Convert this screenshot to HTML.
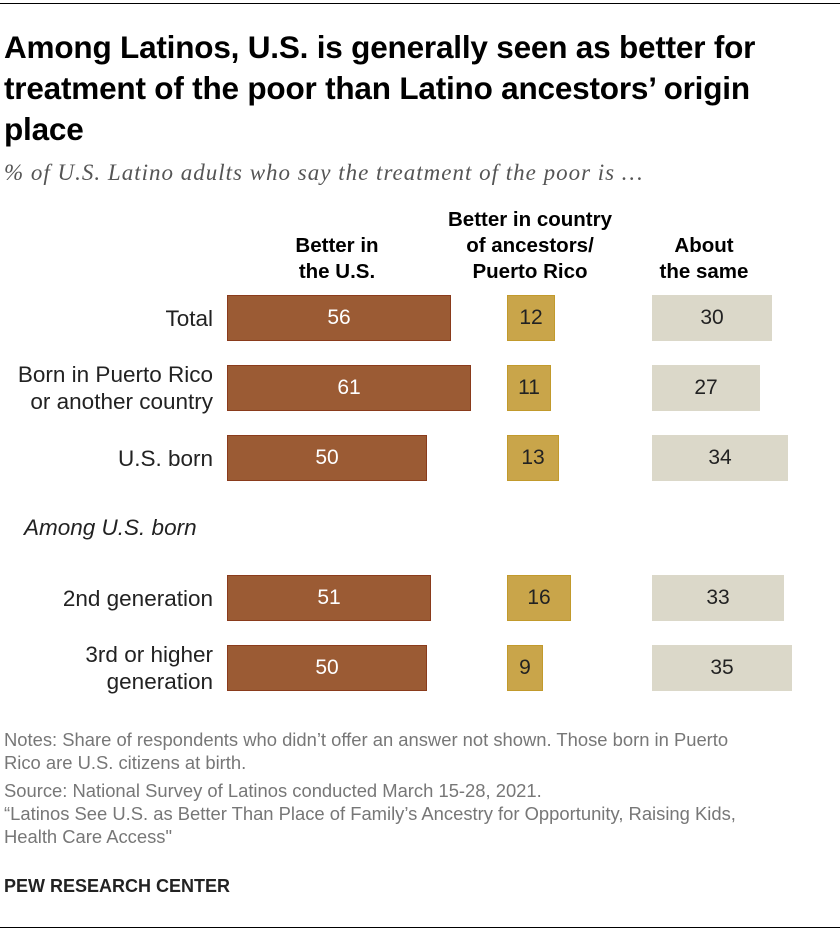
<!DOCTYPE html>
<html><head><meta charset="utf-8"><style>
body{margin:0;background:#fff;font-family:"Liberation Sans",Arial,sans-serif;}
#wrap{position:relative;width:840px;height:932px;overflow:hidden;}
.abs{position:absolute;}
.title{left:4px;top:27px;width:830px;font-size:31.5px;font-weight:bold;line-height:41px;color:#000;letter-spacing:-0.2px;white-space:nowrap;}
.sub{left:4px;top:160px;font-family:"Liberation Serif",serif;font-style:italic;font-size:23px;letter-spacing:1px;color:#555;white-space:nowrap;}
.hdr{font-size:20.5px;font-weight:bold;text-align:center;line-height:26px;color:#000;white-space:nowrap;}
.lbl{font-size:22.5px;color:#222;text-align:right;line-height:27px;white-space:nowrap;}
.bar{position:absolute;height:46px;box-sizing:border-box;font-size:21px;display:flex;align-items:center;justify-content:center;}
.note{left:4px;font-size:18.4px;color:#777;line-height:23px;white-space:nowrap;}
</style></head><body>
<div id="wrap">
<div class="abs" style="left:0;top:3px;width:840px;height:1px;background:#000"></div>
<div class="abs title">Among Latinos, U.S. is generally seen as better for<br>treatment of the poor than Latino ancestors’ origin<br>place</div>
<div class="abs sub">% of U.S. Latino adults who say the treatment of the poor is …</div>
<div class="abs hdr" style="left:257px;top:233px;width:160px">Better in<br>the U.S.</div>
<div class="abs hdr" style="left:410px;top:207px;width:240px">Better in country<br>of ancestors/<br>Puerto Rico</div>
<div class="abs hdr" style="left:624px;top:233px;width:160px">About<br>the same</div>
<div class="abs lbl" style="left:24px;top:514px;text-align:left;font-style:italic">Among U.S. born</div>
<div class="abs note" style="top:728px">Notes: Share of respondents who didn’t offer an answer not shown. Those born in Puerto<br>Rico are U.S. citizens at birth.</div>
<div class="abs note" style="top:779px">Source: National Survey of Latinos conducted March 15-28, 2021.<br>“Latinos See U.S. as Better Than Place of Family’s Ancestry for Opportunity, Raising Kids,<br>Health Care Access"</div>
<div class="abs" style="left:4px;top:876px;font-size:18px;font-weight:bold;color:#222">PEW RESEARCH CENTER</div>
<div class="abs" style="left:0;top:927px;width:840px;height:1px;background:#000"></div>
</div>
<script>
const categories=["Total","Born in Puerto Rico|or another country","U.S. born","2nd generation","3rd or higher|generation"];
const betterUS=[56,61,50,51,50];
const betterAncestors=[12,11,13,16,9];
const aboutSame=[30,27,34,33,35];
const rowTops=[295,365,435,575,645];
const scale=4;
const cols=[
 {x:227,data:betterUS,bg:"#9b5b34",border:"#8a3b1c",color:"#fff",name:"bar-better-us"},
 {x:507,data:betterAncestors,bg:"#c9a54a",border:"#c29a2c",color:"#222",name:"bar-better-ancestors"},
 {x:652,data:aboutSame,bg:"#dbd8c9",border:"#dbd8c9",color:"#222",name:"bar-about-same"}];
const wrap=document.getElementById('wrap');
categories.forEach((c,i)=>{
 const y=rowTops[i];
 const l=document.createElement('div');
 l.className='abs lbl';
 
 
 const parts=c.split('|');
 l.innerHTML=parts.join('<br>');
 l.style.left='0px';l.style.width='213px';
 l.style.top=(y+23-parts.length*13.5)+'px';
 wrap.appendChild(l);
 cols.forEach(col=>{
  const b=document.createElement('div');
  b.className='bar';
  
  
  b.style.left=col.x+'px';b.style.top=y+'px';
  b.style.width=(col.data[i]*scale)+'px';
  b.style.background=col.bg;b.style.border='1px solid '+col.border;b.style.color=col.color;
  b.textContent=col.data[i];
  wrap.appendChild(b);
 });
});
</script>
</body></html>
